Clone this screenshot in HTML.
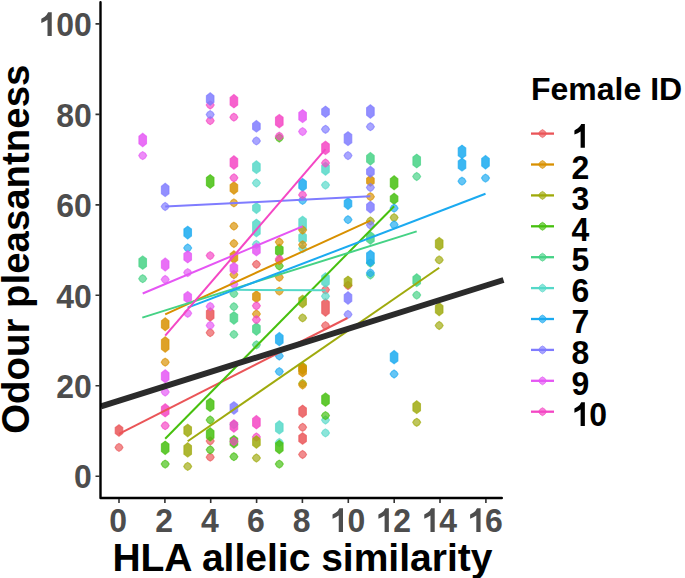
<!DOCTYPE html>
<html><head><meta charset="utf-8"><style>
html,body{margin:0;padding:0;background:#fff;}
body{width:685px;height:578px;overflow:hidden;font-family:"Liberation Sans",sans-serif;}
svg{display:block;}
</style></head><body>
<svg width="685" height="578" viewBox="0 0 685 578" font-family="Liberation Sans" font-weight="bold">
<defs><filter id="bl" x="-5%" y="-5%" width="110%" height="110%"><feGaussianBlur stdDeviation="0.4"/></filter><filter id="bl2" x="-5%" y="-5%" width="110%" height="110%"><feGaussianBlur stdDeviation="0.3"/></filter></defs>
<rect width="685" height="578" fill="#fff"/>
<g fill-opacity="0.68" stroke-opacity="0.68" stroke-width="1.1" filter="url(#bl)">
<path d="M119.0 424.7L122.80 427.60V433.40L119.0 436.30L115.20 433.40V427.60z" fill="#EA5558" stroke="#EA5558" fill-opacity="0.85"/>
<path d="M119.0 443.4l2.45 1.55l1.55 2.45l-1.55 2.45l-2.45 1.55l-2.45 -1.55l-1.55 -2.45l1.55 -2.45z" fill="#EA5558" stroke="#EA5558"/>
<path d="M210.2 307.8L214.00 310.70V318.30L210.2 321.20L206.40 318.30V310.70z" fill="#EA5558" stroke="#EA5558" fill-opacity="0.85"/>
<path d="M210.2 328.7l2.45 1.55l1.55 2.45l-1.55 2.45l-2.45 1.55l-2.45 -1.55l-1.55 -2.45l1.55 -2.45z" fill="#EA5558" stroke="#EA5558"/>
<path d="M210.2 437.0l2.45 1.55l1.55 2.45l-1.55 2.45l-2.45 1.55l-2.45 -1.55l-1.55 -2.45l1.55 -2.45z" fill="#EA5558" stroke="#EA5558"/>
<path d="M210.2 453.2l2.45 1.55l1.55 2.45l-1.55 2.45l-2.45 1.55l-2.45 -1.55l-1.55 -2.45l1.55 -2.45z" fill="#EA5558" stroke="#EA5558"/>
<path d="M256.4 260.3l2.45 1.55l1.55 2.45l-1.55 2.45l-2.45 1.55l-2.45 -1.55l-1.55 -2.45l1.55 -2.45z" fill="#EA5558" stroke="#EA5558"/>
<path d="M302.6 405.1L306.40 408.00V414.70L302.6 417.60L298.80 414.70V408.00z" fill="#EA5558" stroke="#EA5558" fill-opacity="0.85"/>
<path d="M302.6 423.3l2.45 1.55l1.55 2.45l-1.55 2.45l-2.45 1.55l-2.45 -1.55l-1.55 -2.45l1.55 -2.45z" fill="#EA5558" stroke="#EA5558"/>
<path d="M302.6 432.7L306.40 435.60V441.40L302.6 444.30L298.80 441.40V435.60z" fill="#EA5558" stroke="#EA5558" fill-opacity="0.85"/>
<path d="M302.6 450.5l2.45 1.55l1.55 2.45l-1.55 2.45l-2.45 1.55l-2.45 -1.55l-1.55 -2.45l1.55 -2.45z" fill="#EA5558" stroke="#EA5558"/>
<path d="M325.5 285.8l2.45 1.55l1.55 2.45l-1.55 2.45l-2.45 1.55l-2.45 -1.55l-1.55 -2.45l1.55 -2.45z" fill="#EA5558" stroke="#EA5558"/>
<path d="M325.5 298.8L329.30 301.70V313.30L325.5 316.20L321.70 313.30V301.70z" fill="#EA5558" stroke="#EA5558" fill-opacity="0.85"/>
<path d="M325.5 321.6l2.45 1.55l1.55 2.45l-1.55 2.45l-2.45 1.55l-2.45 -1.55l-1.55 -2.45l1.55 -2.45z" fill="#EA5558" stroke="#EA5558"/>
<path d="M348.0 281.5l2.45 1.55l1.55 2.45l-1.55 2.45l-2.45 1.55l-2.45 -1.55l-1.55 -2.45l1.55 -2.45z" fill="#EA5558" stroke="#EA5558"/>
<path d="M142.7 255.9L146.50 258.80V266.40L142.7 269.30L138.90 266.40V258.80z" fill="#45D285" stroke="#45D285" fill-opacity="0.85"/>
<path d="M142.7 274.7l2.45 1.55l1.55 2.45l-1.55 2.45l-2.45 1.55l-2.45 -1.55l-1.55 -2.45l1.55 -2.45z" fill="#45D285" stroke="#45D285"/>
<path d="M233.9 289.7l2.45 1.55l1.55 2.45l-1.55 2.45l-2.45 1.55l-2.45 -1.55l-1.55 -2.45l1.55 -2.45z" fill="#45D285" stroke="#45D285"/>
<path d="M233.9 302.7l2.45 1.55l1.55 2.45l-1.55 2.45l-2.45 1.55l-2.45 -1.55l-1.55 -2.45l1.55 -2.45z" fill="#45D285" stroke="#45D285"/>
<path d="M233.9 311.7L237.70 314.60V321.30L233.9 324.20L230.10 321.30V314.60z" fill="#45D285" stroke="#45D285" fill-opacity="0.85"/>
<path d="M233.9 330.4l2.45 1.55l1.55 2.45l-1.55 2.45l-2.45 1.55l-2.45 -1.55l-1.55 -2.45l1.55 -2.45z" fill="#45D285" stroke="#45D285"/>
<path d="M256.4 322.8L260.20 325.70V332.30L256.4 335.20L252.60 332.30V325.70z" fill="#45D285" stroke="#45D285" fill-opacity="0.85"/>
<path d="M256.4 340.8l2.45 1.55l1.55 2.45l-1.55 2.45l-2.45 1.55l-2.45 -1.55l-1.55 -2.45l1.55 -2.45z" fill="#45D285" stroke="#45D285"/>
<path d="M370.4 152.5L374.20 155.40V162.10L370.4 165.00L366.60 162.10V155.40z" fill="#45D285" stroke="#45D285" fill-opacity="0.85"/>
<path d="M370.4 231.6L374.20 234.50V241.30L370.4 244.20L366.60 241.30V234.50z" fill="#45D285" stroke="#45D285" fill-opacity="0.85"/>
<path d="M370.4 259.0l2.45 1.55l1.55 2.45l-1.55 2.45l-2.45 1.55l-2.45 -1.55l-1.55 -2.45l1.55 -2.45z" fill="#45D285" stroke="#45D285"/>
<path d="M370.4 271.0l2.45 1.55l1.55 2.45l-1.55 2.45l-2.45 1.55l-2.45 -1.55l-1.55 -2.45l1.55 -2.45z" fill="#45D285" stroke="#45D285"/>
<path d="M416.7 154.1L420.50 157.00V165.00L416.7 167.90L412.90 165.00V157.00z" fill="#45D285" stroke="#45D285" fill-opacity="0.85"/>
<path d="M416.7 172.5l2.45 1.55l1.55 2.45l-1.55 2.45l-2.45 1.55l-2.45 -1.55l-1.55 -2.45l1.55 -2.45z" fill="#45D285" stroke="#45D285"/>
<path d="M416.7 273.8L420.50 276.70V283.70L416.7 286.60L412.90 283.70V276.70z" fill="#45D285" stroke="#45D285" fill-opacity="0.85"/>
<path d="M416.7 291.1l2.45 1.55l1.55 2.45l-1.55 2.45l-2.45 1.55l-2.45 -1.55l-1.55 -2.45l1.55 -2.45z" fill="#45D285" stroke="#45D285"/>
<path d="M233.9 420.5l2.45 1.55l1.55 2.45l-1.55 2.45l-2.45 1.55l-2.45 -1.55l-1.55 -2.45l1.55 -2.45z" fill="#55D8C8" stroke="#55D8C8"/>
<path d="M256.4 160.8L260.20 163.70V170.70L256.4 173.60L252.60 170.70V163.70z" fill="#55D8C8" stroke="#55D8C8" fill-opacity="0.85"/>
<path d="M256.4 179.0l2.45 1.55l1.55 2.45l-1.55 2.45l-2.45 1.55l-2.45 -1.55l-1.55 -2.45l1.55 -2.45z" fill="#55D8C8" stroke="#55D8C8"/>
<path d="M256.4 202.7L260.20 205.60V210.60L256.4 213.50L252.60 210.60V205.60z" fill="#55D8C8" stroke="#55D8C8" fill-opacity="0.85"/>
<path d="M256.4 219.1L260.20 222.00V233.90L256.4 236.80L252.60 233.90V222.00z" fill="#55D8C8" stroke="#55D8C8" fill-opacity="0.85"/>
<path d="M256.4 240.4l2.45 1.55l1.55 2.45l-1.55 2.45l-2.45 1.55l-2.45 -1.55l-1.55 -2.45l1.55 -2.45z" fill="#55D8C8" stroke="#55D8C8"/>
<path d="M279.3 420.8L283.10 423.70V431.20L279.3 434.10L275.50 431.20V423.70z" fill="#55D8C8" stroke="#55D8C8" fill-opacity="0.85"/>
<path d="M279.3 438.5l2.45 1.55l1.55 2.45l-1.55 2.45l-2.45 1.55l-2.45 -1.55l-1.55 -2.45l1.55 -2.45z" fill="#55D8C8" stroke="#55D8C8"/>
<path d="M302.6 216.2L306.40 219.10V229.30L302.6 232.20L298.80 229.30V219.10z" fill="#55D8C8" stroke="#55D8C8" fill-opacity="0.85"/>
<path d="M302.6 231.8L306.40 234.70V241.30L302.6 244.20L298.80 241.30V234.70z" fill="#55D8C8" stroke="#55D8C8" fill-opacity="0.85"/>
<path d="M302.6 244.6l2.45 1.55l1.55 2.45l-1.55 2.45l-2.45 1.55l-2.45 -1.55l-1.55 -2.45l1.55 -2.45z" fill="#55D8C8" stroke="#55D8C8"/>
<path d="M325.5 162.3L329.30 165.20V172.30L325.5 175.20L321.70 172.30V165.20z" fill="#55D8C8" stroke="#55D8C8" fill-opacity="0.85"/>
<path d="M325.5 181.1l2.45 1.55l1.55 2.45l-1.55 2.45l-2.45 1.55l-2.45 -1.55l-1.55 -2.45l1.55 -2.45z" fill="#55D8C8" stroke="#55D8C8"/>
<path d="M325.5 272.8L329.30 275.70V284.30L325.5 287.20L321.70 284.30V275.70z" fill="#55D8C8" stroke="#55D8C8" fill-opacity="0.85"/>
<path d="M325.5 292.2l2.45 1.55l1.55 2.45l-1.55 2.45l-2.45 1.55l-2.45 -1.55l-1.55 -2.45l1.55 -2.45z" fill="#55D8C8" stroke="#55D8C8"/>
<path d="M325.5 416.0l2.45 1.55l1.55 2.45l-1.55 2.45l-2.45 1.55l-2.45 -1.55l-1.55 -2.45l1.55 -2.45z" fill="#55D8C8" stroke="#55D8C8"/>
<path d="M325.5 428.9l2.45 1.55l1.55 2.45l-1.55 2.45l-2.45 1.55l-2.45 -1.55l-1.55 -2.45l1.55 -2.45z" fill="#55D8C8" stroke="#55D8C8"/>
<path d="M187.7 424.2L191.50 427.10V433.80L187.7 436.70L183.90 433.80V427.10z" fill="#9FAA0A" stroke="#9FAA0A" fill-opacity="0.85"/>
<path d="M187.7 442.8L191.50 445.70V454.20L187.7 457.10L183.90 454.20V445.70z" fill="#9FAA0A" stroke="#9FAA0A" fill-opacity="0.85"/>
<path d="M187.7 462.4l2.45 1.55l1.55 2.45l-1.55 2.45l-2.45 1.55l-2.45 -1.55l-1.55 -2.45l1.55 -2.45z" fill="#9FAA0A" stroke="#9FAA0A"/>
<path d="M256.4 454.0l2.45 1.55l1.55 2.45l-1.55 2.45l-2.45 1.55l-2.45 -1.55l-1.55 -2.45l1.55 -2.45z" fill="#9FAA0A" stroke="#9FAA0A"/>
<path d="M302.6 295.2L306.40 298.10V304.80L302.6 307.70L298.80 304.80V298.10z" fill="#9FAA0A" stroke="#9FAA0A" fill-opacity="0.85"/>
<path d="M302.6 313.9l2.45 1.55l1.55 2.45l-1.55 2.45l-2.45 1.55l-2.45 -1.55l-1.55 -2.45l1.55 -2.45z" fill="#9FAA0A" stroke="#9FAA0A"/>
<path d="M302.6 362.3L306.40 365.20V371.30L302.6 374.20L298.80 371.30V365.20z" fill="#9FAA0A" stroke="#9FAA0A" fill-opacity="0.85"/>
<path d="M302.6 379.5l2.45 1.55l1.55 2.45l-1.55 2.45l-2.45 1.55l-2.45 -1.55l-1.55 -2.45l1.55 -2.45z" fill="#9FAA0A" stroke="#9FAA0A"/>
<path d="M348.0 276.1L351.80 279.00V285.70L348.0 288.60L344.20 285.70V279.00z" fill="#9FAA0A" stroke="#9FAA0A" fill-opacity="0.85"/>
<path d="M370.4 217.0l2.45 1.55l1.55 2.45l-1.55 2.45l-2.45 1.55l-2.45 -1.55l-1.55 -2.45l1.55 -2.45z" fill="#9FAA0A" stroke="#9FAA0A"/>
<path d="M394.1 213.6l2.45 1.55l1.55 2.45l-1.55 2.45l-2.45 1.55l-2.45 -1.55l-1.55 -2.45l1.55 -2.45z" fill="#9FAA0A" stroke="#9FAA0A"/>
<path d="M416.7 400.8L420.50 403.70V410.70L416.7 413.60L412.90 410.70V403.70z" fill="#9FAA0A" stroke="#9FAA0A" fill-opacity="0.85"/>
<path d="M416.7 418.3l2.45 1.55l1.55 2.45l-1.55 2.45l-2.45 1.55l-2.45 -1.55l-1.55 -2.45l1.55 -2.45z" fill="#9FAA0A" stroke="#9FAA0A"/>
<path d="M439.2 237.4L443.00 240.30V247.40L439.2 250.30L435.40 247.40V240.30z" fill="#9FAA0A" stroke="#9FAA0A" fill-opacity="0.85"/>
<path d="M439.2 255.9l2.45 1.55l1.55 2.45l-1.55 2.45l-2.45 1.55l-2.45 -1.55l-1.55 -2.45l1.55 -2.45z" fill="#9FAA0A" stroke="#9FAA0A"/>
<path d="M439.2 302.8L443.00 305.70V312.80L439.2 315.70L435.40 312.80V305.70z" fill="#9FAA0A" stroke="#9FAA0A" fill-opacity="0.85"/>
<path d="M439.2 321.5l2.45 1.55l1.55 2.45l-1.55 2.45l-2.45 1.55l-2.45 -1.55l-1.55 -2.45l1.55 -2.45z" fill="#9FAA0A" stroke="#9FAA0A"/>
<path d="M165.2 441.1L169.00 444.00V451.60L165.2 454.50L161.40 451.60V444.00z" fill="#46C00E" stroke="#46C00E" fill-opacity="0.85"/>
<path d="M165.2 460.1l2.45 1.55l1.55 2.45l-1.55 2.45l-2.45 1.55l-2.45 -1.55l-1.55 -2.45l1.55 -2.45z" fill="#46C00E" stroke="#46C00E"/>
<path d="M210.2 174.6L214.00 177.50V185.50L210.2 188.40L206.40 185.50V177.50z" fill="#46C00E" stroke="#46C00E" fill-opacity="0.85"/>
<path d="M210.2 398.2L214.00 401.10V408.70L210.2 411.60L206.40 408.70V401.10z" fill="#46C00E" stroke="#46C00E" fill-opacity="0.85"/>
<path d="M210.2 416.0l2.45 1.55l1.55 2.45l-1.55 2.45l-2.45 1.55l-2.45 -1.55l-1.55 -2.45l1.55 -2.45z" fill="#46C00E" stroke="#46C00E"/>
<path d="M210.2 427.8L214.00 430.70V438.10L210.2 441.00L206.40 438.10V430.70z" fill="#46C00E" stroke="#46C00E" fill-opacity="0.85"/>
<path d="M210.2 445.8l2.45 1.55l1.55 2.45l-1.55 2.45l-2.45 1.55l-2.45 -1.55l-1.55 -2.45l1.55 -2.45z" fill="#46C00E" stroke="#46C00E"/>
<path d="M233.9 435.4L237.70 438.30V445.10L233.9 448.00L230.10 445.10V438.30z" fill="#46C00E" stroke="#46C00E" fill-opacity="0.85"/>
<path d="M233.9 452.7l2.45 1.55l1.55 2.45l-1.55 2.45l-2.45 1.55l-2.45 -1.55l-1.55 -2.45l1.55 -2.45z" fill="#46C00E" stroke="#46C00E"/>
<path d="M279.3 134.0l2.45 1.55l1.55 2.45l-1.55 2.45l-2.45 1.55l-2.45 -1.55l-1.55 -2.45l1.55 -2.45z" fill="#46C00E" stroke="#46C00E"/>
<path d="M279.3 244.2L283.10 247.10V253.80L279.3 256.70L275.50 253.80V247.10z" fill="#46C00E" stroke="#46C00E" fill-opacity="0.85"/>
<path d="M279.3 262.0l2.45 1.55l1.55 2.45l-1.55 2.45l-2.45 1.55l-2.45 -1.55l-1.55 -2.45l1.55 -2.45z" fill="#46C00E" stroke="#46C00E"/>
<path d="M279.3 440.3L283.10 443.20V450.80L279.3 453.70L275.50 450.80V443.20z" fill="#46C00E" stroke="#46C00E" fill-opacity="0.85"/>
<path d="M279.3 460.1l2.45 1.55l1.55 2.45l-1.55 2.45l-2.45 1.55l-2.45 -1.55l-1.55 -2.45l1.55 -2.45z" fill="#46C00E" stroke="#46C00E"/>
<path d="M325.5 392.9L329.30 395.80V403.40L325.5 406.30L321.70 403.40V395.80z" fill="#46C00E" stroke="#46C00E" fill-opacity="0.85"/>
<path d="M325.5 411.6l2.45 1.55l1.55 2.45l-1.55 2.45l-2.45 1.55l-2.45 -1.55l-1.55 -2.45l1.55 -2.45z" fill="#46C00E" stroke="#46C00E"/>
<path d="M394.1 175.8L397.90 178.70V186.80L394.1 189.70L390.30 186.80V178.70z" fill="#46C00E" stroke="#46C00E" fill-opacity="0.85"/>
<path d="M394.1 193.3L397.90 196.20V201.30L394.1 204.20L390.30 201.30V196.20z" fill="#46C00E" stroke="#46C00E" fill-opacity="0.85"/>
<path d="M165.2 317.8L169.00 320.70V327.80L165.2 330.70L161.40 327.80V320.70z" fill="#D89000" stroke="#D89000" fill-opacity="0.85"/>
<path d="M165.2 336.8L169.00 339.70V349.30L165.2 352.20L161.40 349.30V339.70z" fill="#D89000" stroke="#D89000" fill-opacity="0.85"/>
<path d="M165.2 358.2l2.45 1.55l1.55 2.45l-1.55 2.45l-2.45 1.55l-2.45 -1.55l-1.55 -2.45l1.55 -2.45z" fill="#D89000" stroke="#D89000"/>
<path d="M233.9 181.8L237.70 184.70V191.30L233.9 194.20L230.10 191.30V184.70z" fill="#D89000" stroke="#D89000" fill-opacity="0.85"/>
<path d="M233.9 198.9l2.45 1.55l1.55 2.45l-1.55 2.45l-2.45 1.55l-2.45 -1.55l-1.55 -2.45l1.55 -2.45z" fill="#D89000" stroke="#D89000"/>
<path d="M233.9 222.2l2.45 1.55l1.55 2.45l-1.55 2.45l-2.45 1.55l-2.45 -1.55l-1.55 -2.45l1.55 -2.45z" fill="#D89000" stroke="#D89000"/>
<path d="M233.9 239.5l2.45 1.55l1.55 2.45l-1.55 2.45l-2.45 1.55l-2.45 -1.55l-1.55 -2.45l1.55 -2.45z" fill="#D89000" stroke="#D89000"/>
<path d="M233.9 250.8L237.70 253.70V260.30L233.9 263.20L230.10 260.30V253.70z" fill="#D89000" stroke="#D89000" fill-opacity="0.85"/>
<path d="M233.9 270.7l2.45 1.55l1.55 2.45l-1.55 2.45l-2.45 1.55l-2.45 -1.55l-1.55 -2.45l1.55 -2.45z" fill="#D89000" stroke="#D89000"/>
<path d="M256.4 290.8L260.20 293.70V299.70L256.4 302.60L252.60 299.70V293.70z" fill="#D89000" stroke="#D89000" fill-opacity="0.85"/>
<path d="M256.4 310.0l2.45 1.55l1.55 2.45l-1.55 2.45l-2.45 1.55l-2.45 -1.55l-1.55 -2.45l1.55 -2.45z" fill="#D89000" stroke="#D89000"/>
<path d="M279.3 238.0l2.45 1.55l1.55 2.45l-1.55 2.45l-2.45 1.55l-2.45 -1.55l-1.55 -2.45l1.55 -2.45z" fill="#D89000" stroke="#D89000"/>
<path d="M279.3 256.5l2.45 1.55l1.55 2.45l-1.55 2.45l-2.45 1.55l-2.45 -1.55l-1.55 -2.45l1.55 -2.45z" fill="#D89000" stroke="#D89000"/>
<path d="M279.3 273.3l2.45 1.55l1.55 2.45l-1.55 2.45l-2.45 1.55l-2.45 -1.55l-1.55 -2.45l1.55 -2.45z" fill="#D89000" stroke="#D89000"/>
<path d="M279.3 287.1l2.45 1.55l1.55 2.45l-1.55 2.45l-2.45 1.55l-2.45 -1.55l-1.55 -2.45l1.55 -2.45z" fill="#D89000" stroke="#D89000"/>
<path d="M302.6 226.0l2.45 1.55l1.55 2.45l-1.55 2.45l-2.45 1.55l-2.45 -1.55l-1.55 -2.45l1.55 -2.45z" fill="#D89000" stroke="#D89000"/>
<path d="M302.6 240.8l2.45 1.55l1.55 2.45l-1.55 2.45l-2.45 1.55l-2.45 -1.55l-1.55 -2.45l1.55 -2.45z" fill="#D89000" stroke="#D89000"/>
<path d="M302.6 363.5L306.40 366.40V374.00L302.6 376.90L298.80 374.00V366.40z" fill="#D89000" stroke="#D89000" fill-opacity="0.85"/>
<path d="M302.6 381.0l2.45 1.55l1.55 2.45l-1.55 2.45l-2.45 1.55l-2.45 -1.55l-1.55 -2.45l1.55 -2.45z" fill="#D89000" stroke="#D89000"/>
<path d="M370.4 175.3L374.20 178.20V183.30L370.4 186.20L366.60 183.30V178.20z" fill="#D89000" stroke="#D89000" fill-opacity="0.85"/>
<path d="M370.4 192.7l2.45 1.55l1.55 2.45l-1.55 2.45l-2.45 1.55l-2.45 -1.55l-1.55 -2.45l1.55 -2.45z" fill="#D89000" stroke="#D89000"/>
<path d="M187.7 226.2L191.50 229.10V236.10L187.7 239.00L183.90 236.10V229.10z" fill="#1AAAF0" stroke="#1AAAF0" fill-opacity="0.85"/>
<path d="M187.7 244.0l2.45 1.55l1.55 2.45l-1.55 2.45l-2.45 1.55l-2.45 -1.55l-1.55 -2.45l1.55 -2.45z" fill="#1AAAF0" stroke="#1AAAF0"/>
<path d="M279.3 332.5L283.10 335.40V342.90L279.3 345.80L275.50 342.90V335.40z" fill="#1AAAF0" stroke="#1AAAF0" fill-opacity="0.85"/>
<path d="M279.3 352.0l2.45 1.55l1.55 2.45l-1.55 2.45l-2.45 1.55l-2.45 -1.55l-1.55 -2.45l1.55 -2.45z" fill="#1AAAF0" stroke="#1AAAF0"/>
<path d="M279.3 367.6l2.45 1.55l1.55 2.45l-1.55 2.45l-2.45 1.55l-2.45 -1.55l-1.55 -2.45l1.55 -2.45z" fill="#1AAAF0" stroke="#1AAAF0"/>
<path d="M302.6 178.4L306.40 181.30V188.30L302.6 191.20L298.80 188.30V181.30z" fill="#1AAAF0" stroke="#1AAAF0" fill-opacity="0.85"/>
<path d="M302.6 196.4l2.45 1.55l1.55 2.45l-1.55 2.45l-2.45 1.55l-2.45 -1.55l-1.55 -2.45l1.55 -2.45z" fill="#1AAAF0" stroke="#1AAAF0"/>
<path d="M348.0 197.8L351.80 200.70V206.60L348.0 209.50L344.20 206.60V200.70z" fill="#1AAAF0" stroke="#1AAAF0" fill-opacity="0.85"/>
<path d="M348.0 215.7l2.45 1.55l1.55 2.45l-1.55 2.45l-2.45 1.55l-2.45 -1.55l-1.55 -2.45l1.55 -2.45z" fill="#1AAAF0" stroke="#1AAAF0"/>
<path d="M370.4 250.2L374.20 253.10V263.30L370.4 266.20L366.60 263.30V253.10z" fill="#1AAAF0" stroke="#1AAAF0" fill-opacity="0.85"/>
<path d="M370.4 268.9l2.45 1.55l1.55 2.45l-1.55 2.45l-2.45 1.55l-2.45 -1.55l-1.55 -2.45l1.55 -2.45z" fill="#1AAAF0" stroke="#1AAAF0"/>
<path d="M394.1 204.2l2.45 1.55l1.55 2.45l-1.55 2.45l-2.45 1.55l-2.45 -1.55l-1.55 -2.45l1.55 -2.45z" fill="#1AAAF0" stroke="#1AAAF0"/>
<path d="M394.1 220.8l2.45 1.55l1.55 2.45l-1.55 2.45l-2.45 1.55l-2.45 -1.55l-1.55 -2.45l1.55 -2.45z" fill="#1AAAF0" stroke="#1AAAF0"/>
<path d="M394.1 350.5L397.90 353.40V360.90L394.1 363.80L390.30 360.90V353.40z" fill="#1AAAF0" stroke="#1AAAF0" fill-opacity="0.85"/>
<path d="M394.1 370.0l2.45 1.55l1.55 2.45l-1.55 2.45l-2.45 1.55l-2.45 -1.55l-1.55 -2.45l1.55 -2.45z" fill="#1AAAF0" stroke="#1AAAF0"/>
<path d="M462.0 145.1L465.80 148.00V155.70L462.0 158.60L458.20 155.70V148.00z" fill="#1AAAF0" stroke="#1AAAF0" fill-opacity="0.85"/>
<path d="M462.0 158.2L465.80 161.10V168.20L462.0 171.10L458.20 168.20V161.10z" fill="#1AAAF0" stroke="#1AAAF0" fill-opacity="0.85"/>
<path d="M462.0 177.2l2.45 1.55l1.55 2.45l-1.55 2.45l-2.45 1.55l-2.45 -1.55l-1.55 -2.45l1.55 -2.45z" fill="#1AAAF0" stroke="#1AAAF0"/>
<path d="M485.5 155.5L489.30 158.40V166.10L485.5 169.00L481.70 166.10V158.40z" fill="#1AAAF0" stroke="#1AAAF0" fill-opacity="0.85"/>
<path d="M485.5 174.1l2.45 1.55l1.55 2.45l-1.55 2.45l-2.45 1.55l-2.45 -1.55l-1.55 -2.45l1.55 -2.45z" fill="#1AAAF0" stroke="#1AAAF0"/>
<path d="M165.2 403.8L169.00 406.70V414.00L165.2 416.90L161.40 414.00V406.70z" fill="#F446C4" stroke="#F446C4" fill-opacity="0.85"/>
<path d="M165.2 421.7l2.45 1.55l1.55 2.45l-1.55 2.45l-2.45 1.55l-2.45 -1.55l-1.55 -2.45l1.55 -2.45z" fill="#F446C4" stroke="#F446C4"/>
<path d="M210.2 101.0l2.45 1.55l1.55 2.45l-1.55 2.45l-2.45 1.55l-2.45 -1.55l-1.55 -2.45l1.55 -2.45z" fill="#F446C4" stroke="#F446C4"/>
<path d="M210.2 116.7l2.45 1.55l1.55 2.45l-1.55 2.45l-2.45 1.55l-2.45 -1.55l-1.55 -2.45l1.55 -2.45z" fill="#F446C4" stroke="#F446C4"/>
<path d="M210.2 251.6l2.45 1.55l1.55 2.45l-1.55 2.45l-2.45 1.55l-2.45 -1.55l-1.55 -2.45l1.55 -2.45z" fill="#F446C4" stroke="#F446C4"/>
<path d="M233.9 94.5L237.70 97.40V105.00L233.9 107.90L230.10 105.00V97.40z" fill="#F446C4" stroke="#F446C4" fill-opacity="0.85"/>
<path d="M233.9 113.2l2.45 1.55l1.55 2.45l-1.55 2.45l-2.45 1.55l-2.45 -1.55l-1.55 -2.45l1.55 -2.45z" fill="#F446C4" stroke="#F446C4"/>
<path d="M233.9 155.8L237.70 158.70V166.30L233.9 169.20L230.10 166.30V158.70z" fill="#F446C4" stroke="#F446C4" fill-opacity="0.85"/>
<path d="M233.9 173.8l2.45 1.55l1.55 2.45l-1.55 2.45l-2.45 1.55l-2.45 -1.55l-1.55 -2.45l1.55 -2.45z" fill="#F446C4" stroke="#F446C4"/>
<path d="M233.9 419.8L237.70 422.70V429.30L233.9 432.20L230.10 429.30V422.70z" fill="#F446C4" stroke="#F446C4" fill-opacity="0.85"/>
<path d="M233.9 437.5l2.45 1.55l1.55 2.45l-1.55 2.45l-2.45 1.55l-2.45 -1.55l-1.55 -2.45l1.55 -2.45z" fill="#F446C4" stroke="#F446C4"/>
<path d="M256.4 301.8l2.45 1.55l1.55 2.45l-1.55 2.45l-2.45 1.55l-2.45 -1.55l-1.55 -2.45l1.55 -2.45z" fill="#F446C4" stroke="#F446C4"/>
<path d="M256.4 315.7l2.45 1.55l1.55 2.45l-1.55 2.45l-2.45 1.55l-2.45 -1.55l-1.55 -2.45l1.55 -2.45z" fill="#F446C4" stroke="#F446C4"/>
<path d="M256.4 415.5L260.20 418.40V426.00L256.4 428.90L252.60 426.00V418.40z" fill="#F446C4" stroke="#F446C4" fill-opacity="0.85"/>
<path d="M256.4 433.0l2.45 1.55l1.55 2.45l-1.55 2.45l-2.45 1.55l-2.45 -1.55l-1.55 -2.45l1.55 -2.45z" fill="#F446C4" stroke="#F446C4"/>
<path d="M279.3 114.4L283.10 117.30V124.90L279.3 127.80L275.50 124.90V117.30z" fill="#F446C4" stroke="#F446C4" fill-opacity="0.85"/>
<path d="M279.3 132.2l2.45 1.55l1.55 2.45l-1.55 2.45l-2.45 1.55l-2.45 -1.55l-1.55 -2.45l1.55 -2.45z" fill="#F446C4" stroke="#F446C4"/>
<path d="M279.3 255.0l2.45 1.55l1.55 2.45l-1.55 2.45l-2.45 1.55l-2.45 -1.55l-1.55 -2.45l1.55 -2.45z" fill="#F446C4" stroke="#F446C4"/>
<path d="M302.6 190.9l2.45 1.55l1.55 2.45l-1.55 2.45l-2.45 1.55l-2.45 -1.55l-1.55 -2.45l1.55 -2.45z" fill="#F446C4" stroke="#F446C4"/>
<path d="M325.5 141.2L329.30 144.10V151.70L325.5 154.60L321.70 151.70V144.10z" fill="#F446C4" stroke="#F446C4" fill-opacity="0.85"/>
<path d="M325.5 159.0l2.45 1.55l1.55 2.45l-1.55 2.45l-2.45 1.55l-2.45 -1.55l-1.55 -2.45l1.55 -2.45z" fill="#F446C4" stroke="#F446C4"/>
<path d="M142.7 133.3L146.50 136.20V143.80L142.7 146.70L138.90 143.80V136.20z" fill="#E556F4" stroke="#E556F4" fill-opacity="0.85"/>
<path d="M142.7 151.6l2.45 1.55l1.55 2.45l-1.55 2.45l-2.45 1.55l-2.45 -1.55l-1.55 -2.45l1.55 -2.45z" fill="#E556F4" stroke="#E556F4"/>
<path d="M165.2 258.0L169.00 260.90V268.10L165.2 271.00L161.40 268.10V260.90z" fill="#E556F4" stroke="#E556F4" fill-opacity="0.85"/>
<path d="M165.2 275.5l2.45 1.55l1.55 2.45l-1.55 2.45l-2.45 1.55l-2.45 -1.55l-1.55 -2.45l1.55 -2.45z" fill="#E556F4" stroke="#E556F4"/>
<path d="M165.2 369.8L169.00 372.70V379.80L165.2 382.70L161.40 379.80V372.70z" fill="#E556F4" stroke="#E556F4" fill-opacity="0.85"/>
<path d="M165.2 388.0l2.45 1.55l1.55 2.45l-1.55 2.45l-2.45 1.55l-2.45 -1.55l-1.55 -2.45l1.55 -2.45z" fill="#E556F4" stroke="#E556F4"/>
<path d="M187.7 250.7L191.50 253.60V260.00L187.7 262.90L183.90 260.00V253.60z" fill="#E556F4" stroke="#E556F4" fill-opacity="0.85"/>
<path d="M187.7 268.6l2.45 1.55l1.55 2.45l-1.55 2.45l-2.45 1.55l-2.45 -1.55l-1.55 -2.45l1.55 -2.45z" fill="#E556F4" stroke="#E556F4"/>
<path d="M187.7 291.4L191.50 294.30V300.20L187.7 303.10L183.90 300.20V294.30z" fill="#E556F4" stroke="#E556F4" fill-opacity="0.85"/>
<path d="M187.7 309.3l2.45 1.55l1.55 2.45l-1.55 2.45l-2.45 1.55l-2.45 -1.55l-1.55 -2.45l1.55 -2.45z" fill="#E556F4" stroke="#E556F4"/>
<path d="M210.2 302.4l2.45 1.55l1.55 2.45l-1.55 2.45l-2.45 1.55l-2.45 -1.55l-1.55 -2.45l1.55 -2.45z" fill="#E556F4" stroke="#E556F4"/>
<path d="M210.2 321.4l2.45 1.55l1.55 2.45l-1.55 2.45l-2.45 1.55l-2.45 -1.55l-1.55 -2.45l1.55 -2.45z" fill="#E556F4" stroke="#E556F4"/>
<path d="M233.9 262.4L237.70 265.30V271.30L233.9 274.20L230.10 271.30V265.30z" fill="#E556F4" stroke="#E556F4" fill-opacity="0.85"/>
<path d="M233.9 280.2l2.45 1.55l1.55 2.45l-1.55 2.45l-2.45 1.55l-2.45 -1.55l-1.55 -2.45l1.55 -2.45z" fill="#E556F4" stroke="#E556F4"/>
<path d="M256.4 243.3L260.20 246.20V252.90L256.4 255.80L252.60 252.90V246.20z" fill="#E556F4" stroke="#E556F4" fill-opacity="0.85"/>
<path d="M302.6 109.6L306.40 112.50V119.70L302.6 122.60L298.80 119.70V112.50z" fill="#E556F4" stroke="#E556F4" fill-opacity="0.85"/>
<path d="M302.6 127.6l2.45 1.55l1.55 2.45l-1.55 2.45l-2.45 1.55l-2.45 -1.55l-1.55 -2.45l1.55 -2.45z" fill="#E556F4" stroke="#E556F4"/>
<path d="M165.2 183.3L169.00 186.20V193.70L165.2 196.60L161.40 193.70V186.20z" fill="#7F7BFF" stroke="#7F7BFF" fill-opacity="0.85"/>
<path d="M165.2 202.5l2.45 1.55l1.55 2.45l-1.55 2.45l-2.45 1.55l-2.45 -1.55l-1.55 -2.45l1.55 -2.45z" fill="#7F7BFF" stroke="#7F7BFF"/>
<path d="M210.2 92.8L214.00 95.70V102.30L210.2 105.20L206.40 102.30V95.70z" fill="#7F7BFF" stroke="#7F7BFF" fill-opacity="0.85"/>
<path d="M210.2 110.6l2.45 1.55l1.55 2.45l-1.55 2.45l-2.45 1.55l-2.45 -1.55l-1.55 -2.45l1.55 -2.45z" fill="#7F7BFF" stroke="#7F7BFF"/>
<path d="M233.9 401.7L237.70 404.60V411.30L233.9 414.20L230.10 411.30V404.60z" fill="#7F7BFF" stroke="#7F7BFF" fill-opacity="0.85"/>
<path d="M256.4 120.5L260.20 123.40V129.20L256.4 132.10L252.60 129.20V123.40z" fill="#7F7BFF" stroke="#7F7BFF" fill-opacity="0.85"/>
<path d="M256.4 136.9l2.45 1.55l1.55 2.45l-1.55 2.45l-2.45 1.55l-2.45 -1.55l-1.55 -2.45l1.55 -2.45z" fill="#7F7BFF" stroke="#7F7BFF"/>
<path d="M325.5 106.1L329.30 109.00V114.50L325.5 117.40L321.70 114.50V109.00z" fill="#7F7BFF" stroke="#7F7BFF" fill-opacity="0.85"/>
<path d="M325.5 125.3l2.45 1.55l1.55 2.45l-1.55 2.45l-2.45 1.55l-2.45 -1.55l-1.55 -2.45l1.55 -2.45z" fill="#7F7BFF" stroke="#7F7BFF"/>
<path d="M348.0 131.7L351.80 134.60V142.70L348.0 145.60L344.20 142.70V134.60z" fill="#7F7BFF" stroke="#7F7BFF" fill-opacity="0.85"/>
<path d="M348.0 151.6l2.45 1.55l1.55 2.45l-1.55 2.45l-2.45 1.55l-2.45 -1.55l-1.55 -2.45l1.55 -2.45z" fill="#7F7BFF" stroke="#7F7BFF"/>
<path d="M348.0 291.8L351.80 294.70V301.30L348.0 304.20L344.20 301.30V294.70z" fill="#7F7BFF" stroke="#7F7BFF" fill-opacity="0.85"/>
<path d="M348.0 310.4l2.45 1.55l1.55 2.45l-1.55 2.45l-2.45 1.55l-2.45 -1.55l-1.55 -2.45l1.55 -2.45z" fill="#7F7BFF" stroke="#7F7BFF"/>
<path d="M370.4 104.8L374.20 107.70V115.30L370.4 118.20L366.60 115.30V107.70z" fill="#7F7BFF" stroke="#7F7BFF" fill-opacity="0.85"/>
<path d="M370.4 122.7l2.45 1.55l1.55 2.45l-1.55 2.45l-2.45 1.55l-2.45 -1.55l-1.55 -2.45l1.55 -2.45z" fill="#7F7BFF" stroke="#7F7BFF"/>
<path d="M370.4 166.3L374.20 169.20V174.30L370.4 177.20L366.60 174.30V169.20z" fill="#7F7BFF" stroke="#7F7BFF" fill-opacity="0.85"/>
<path d="M370.4 183.5l2.45 1.55l1.55 2.45l-1.55 2.45l-2.45 1.55l-2.45 -1.55l-1.55 -2.45l1.55 -2.45z" fill="#7F7BFF" stroke="#7F7BFF"/>
<path d="M370.4 201.3L374.20 204.20V210.10L370.4 213.00L366.60 210.10V204.20z" fill="#7F7BFF" stroke="#7F7BFF" fill-opacity="0.85"/>
<path d="M370.4 221.0l2.45 1.55l1.55 2.45l-1.55 2.45l-2.45 1.55l-2.45 -1.55l-1.55 -2.45l1.55 -2.45z" fill="#7F7BFF" stroke="#7F7BFF"/>
<path d="M256.4 435.8L260.20 438.70V445.30L256.4 448.20L252.60 445.30V438.70z" fill="#9FAA0A" stroke="#9FAA0A" fill-opacity="0.85"/>
</g>
<g stroke-width="2" filter="url(#bl2)">
<line x1="119.0" y1="433.8" x2="347.5" y2="318.0" stroke="#EA5558"/>
<line x1="165.2" y1="314.3" x2="370.4" y2="220.6" stroke="#D89000"/>
<line x1="187.7" y1="441.3" x2="439.2" y2="267.7" stroke="#9FAA0A"/>
<line x1="165.2" y1="438.7" x2="394.1" y2="206.2" stroke="#46C00E"/>
<line x1="142.3" y1="317.6" x2="416.7" y2="231.4" stroke="#45D285"/>
<line x1="233.9" y1="289.8" x2="325.5" y2="290.2" stroke="#55D8C8"/>
<line x1="187.7" y1="307.6" x2="485.5" y2="193.7" stroke="#1AAAF0"/>
<line x1="165.2" y1="206.5" x2="370.4" y2="196.3" stroke="#7F7BFF"/>
<line x1="142.7" y1="293.5" x2="302.6" y2="226.3" stroke="#E556F4"/>
<line x1="165.2" y1="335.7" x2="325.5" y2="149.2" stroke="#F446C4"/>
</g>
<line x1="101" y1="406.4" x2="503.5" y2="280" stroke="#2b2b2b" stroke-width="6.0"/>
<path d="M100.5 2.2V498H501.8" fill="none" stroke="#000" stroke-width="2.4" stroke-linejoin="round" stroke-linecap="round"/>
<path d="M95.5 23.9H100M95.5 114.4H100M95.5 204.9H100M95.5 295.3H100M95.5 385.8H100M95.5 476.2H100M119.0 499V503M164.9 499V503M210.7 499V503M256.6 499V503M302.4 499V503M348.3 499V503M394.2 499V503M440.0 499V503M485.9 499V503" stroke="#333" stroke-width="1.6" fill="none"/>
<path transform="translate(38.48 36.10) scale(0.03196 0.03400)" d="M282 0H415V-698H302Q272-625 195-572Q143-536 88-512V-388Q200-428 282-482Z" fill="#4D4D4D"/><text transform="translate(56.25 36.10) scale(0.940 1)" font-size="34.0" fill="#4D4D4D">0</text><text transform="translate(74.03 36.10) scale(0.940 1)" font-size="34.0" fill="#4D4D4D">0</text>
<text transform="translate(56.25 126.60) scale(0.940 1)" font-size="34.0" fill="#4D4D4D">8</text><text transform="translate(74.03 126.60) scale(0.940 1)" font-size="34.0" fill="#4D4D4D">0</text>
<text transform="translate(56.25 217.10) scale(0.940 1)" font-size="34.0" fill="#4D4D4D">6</text><text transform="translate(74.03 217.10) scale(0.940 1)" font-size="34.0" fill="#4D4D4D">0</text>
<text transform="translate(56.25 307.50) scale(0.940 1)" font-size="34.0" fill="#4D4D4D">4</text><text transform="translate(74.03 307.50) scale(0.940 1)" font-size="34.0" fill="#4D4D4D">0</text>
<text transform="translate(56.25 398.00) scale(0.940 1)" font-size="34.0" fill="#4D4D4D">2</text><text transform="translate(74.03 398.00) scale(0.940 1)" font-size="34.0" fill="#4D4D4D">0</text>
<text transform="translate(74.03 488.40) scale(0.940 1)" font-size="34.0" fill="#4D4D4D">0</text>
<text transform="translate(109.31 532.00) scale(0.940 1)" font-size="34.0" fill="#4D4D4D">0</text>
<text transform="translate(155.17 532.00) scale(0.940 1)" font-size="34.0" fill="#4D4D4D">2</text>
<text transform="translate(201.03 532.00) scale(0.940 1)" font-size="34.0" fill="#4D4D4D">4</text>
<text transform="translate(246.89 532.00) scale(0.940 1)" font-size="34.0" fill="#4D4D4D">6</text>
<text transform="translate(292.75 532.00) scale(0.940 1)" font-size="34.0" fill="#4D4D4D">8</text>
<path transform="translate(329.73 532.00) scale(0.03196 0.03400)" d="M282 0H415V-698H302Q272-625 195-572Q143-536 88-512V-388Q200-428 282-482Z" fill="#4D4D4D"/><text transform="translate(347.50 532.00) scale(0.940 1)" font-size="34.0" fill="#4D4D4D">0</text>
<path transform="translate(375.59 532.00) scale(0.03196 0.03400)" d="M282 0H415V-698H302Q272-625 195-572Q143-536 88-512V-388Q200-428 282-482Z" fill="#4D4D4D"/><text transform="translate(393.36 532.00) scale(0.940 1)" font-size="34.0" fill="#4D4D4D">2</text>
<path transform="translate(421.45 532.00) scale(0.03196 0.03400)" d="M282 0H415V-698H302Q272-625 195-572Q143-536 88-512V-388Q200-428 282-482Z" fill="#4D4D4D"/><text transform="translate(439.22 532.00) scale(0.940 1)" font-size="34.0" fill="#4D4D4D">4</text>
<path transform="translate(467.31 532.00) scale(0.03196 0.03400)" d="M282 0H415V-698H302Q272-625 195-572Q143-536 88-512V-388Q200-428 282-482Z" fill="#4D4D4D"/><text transform="translate(485.08 532.00) scale(0.940 1)" font-size="34.0" fill="#4D4D4D">6</text>
<text x="302.4" y="570.5" text-anchor="middle" font-size="39" fill="#000">HLA allelic similarity</text>
<text transform="translate(29,249.2) rotate(-90)" text-anchor="middle" font-size="38.4" fill="#000">Odour pleasantness</text>
<text x="531" y="100.2" font-size="32" fill="#000">Female ID</text>
<line x1="531" y1="133.6" x2="554" y2="133.6" stroke="#EA5558" stroke-width="2.3"/>
<path d="M542.5 129.6l2.45 1.55l1.55 2.45l-1.55 2.45l-2.45 1.55l-2.45 -1.55l-1.55 -2.45l1.55 -2.45z" fill="#EA5558" fill-opacity="0.68" stroke="#EA5558" stroke-opacity="0.68" stroke-width="1"/>
<path transform="translate(571.60 147.80) scale(0.03196 0.03400)" d="M282 0H415V-698H302Q272-625 195-572Q143-536 88-512V-388Q200-428 282-482Z" fill="#000"/>
<line x1="531" y1="164.5" x2="554" y2="164.5" stroke="#D89000" stroke-width="2.3"/>
<path d="M542.5 160.5l2.45 1.55l1.55 2.45l-1.55 2.45l-2.45 1.55l-2.45 -1.55l-1.55 -2.45l1.55 -2.45z" fill="#D89000" fill-opacity="0.68" stroke="#D89000" stroke-opacity="0.68" stroke-width="1"/>
<text transform="translate(571.60 178.70) scale(0.940 1)" font-size="34.0" fill="#000">2</text>
<line x1="531" y1="195.4" x2="554" y2="195.4" stroke="#9FAA0A" stroke-width="2.3"/>
<path d="M542.5 191.4l2.45 1.55l1.55 2.45l-1.55 2.45l-2.45 1.55l-2.45 -1.55l-1.55 -2.45l1.55 -2.45z" fill="#9FAA0A" fill-opacity="0.68" stroke="#9FAA0A" stroke-opacity="0.68" stroke-width="1"/>
<text transform="translate(571.60 209.60) scale(0.940 1)" font-size="34.0" fill="#000">3</text>
<line x1="531" y1="226.3" x2="554" y2="226.3" stroke="#46C00E" stroke-width="2.3"/>
<path d="M542.5 222.3l2.45 1.55l1.55 2.45l-1.55 2.45l-2.45 1.55l-2.45 -1.55l-1.55 -2.45l1.55 -2.45z" fill="#46C00E" fill-opacity="0.68" stroke="#46C00E" stroke-opacity="0.68" stroke-width="1"/>
<text transform="translate(571.60 240.50) scale(0.940 1)" font-size="34.0" fill="#000">4</text>
<line x1="531" y1="257.2" x2="554" y2="257.2" stroke="#45D285" stroke-width="2.3"/>
<path d="M542.5 253.2l2.45 1.55l1.55 2.45l-1.55 2.45l-2.45 1.55l-2.45 -1.55l-1.55 -2.45l1.55 -2.45z" fill="#45D285" fill-opacity="0.68" stroke="#45D285" stroke-opacity="0.68" stroke-width="1"/>
<text transform="translate(571.60 271.40) scale(0.940 1)" font-size="34.0" fill="#000">5</text>
<line x1="531" y1="288.1" x2="554" y2="288.1" stroke="#55D8C8" stroke-width="2.3"/>
<path d="M542.5 284.1l2.45 1.55l1.55 2.45l-1.55 2.45l-2.45 1.55l-2.45 -1.55l-1.55 -2.45l1.55 -2.45z" fill="#55D8C8" fill-opacity="0.68" stroke="#55D8C8" stroke-opacity="0.68" stroke-width="1"/>
<text transform="translate(571.60 302.30) scale(0.940 1)" font-size="34.0" fill="#000">6</text>
<line x1="531" y1="319.0" x2="554" y2="319.0" stroke="#1AAAF0" stroke-width="2.3"/>
<path d="M542.5 315.0l2.45 1.55l1.55 2.45l-1.55 2.45l-2.45 1.55l-2.45 -1.55l-1.55 -2.45l1.55 -2.45z" fill="#1AAAF0" fill-opacity="0.68" stroke="#1AAAF0" stroke-opacity="0.68" stroke-width="1"/>
<text transform="translate(571.60 333.20) scale(0.940 1)" font-size="34.0" fill="#000">7</text>
<line x1="531" y1="349.9" x2="554" y2="349.9" stroke="#7F7BFF" stroke-width="2.3"/>
<path d="M542.5 345.9l2.45 1.55l1.55 2.45l-1.55 2.45l-2.45 1.55l-2.45 -1.55l-1.55 -2.45l1.55 -2.45z" fill="#7F7BFF" fill-opacity="0.68" stroke="#7F7BFF" stroke-opacity="0.68" stroke-width="1"/>
<text transform="translate(571.60 364.10) scale(0.940 1)" font-size="34.0" fill="#000">8</text>
<line x1="531" y1="380.8" x2="554" y2="380.8" stroke="#E556F4" stroke-width="2.3"/>
<path d="M542.5 376.8l2.45 1.55l1.55 2.45l-1.55 2.45l-2.45 1.55l-2.45 -1.55l-1.55 -2.45l1.55 -2.45z" fill="#E556F4" fill-opacity="0.68" stroke="#E556F4" stroke-opacity="0.68" stroke-width="1"/>
<text transform="translate(571.60 395.00) scale(0.940 1)" font-size="34.0" fill="#000">9</text>
<line x1="531" y1="411.7" x2="554" y2="411.7" stroke="#F446C4" stroke-width="2.3"/>
<path d="M542.5 407.7l2.45 1.55l1.55 2.45l-1.55 2.45l-2.45 1.55l-2.45 -1.55l-1.55 -2.45l1.55 -2.45z" fill="#F446C4" fill-opacity="0.68" stroke="#F446C4" stroke-opacity="0.68" stroke-width="1"/>
<path transform="translate(571.60 425.90) scale(0.03196 0.03400)" d="M282 0H415V-698H302Q272-625 195-572Q143-536 88-512V-388Q200-428 282-482Z" fill="#000"/><text transform="translate(589.37 425.90) scale(0.940 1)" font-size="34.0" fill="#000">0</text>
</svg>
</body></html>
